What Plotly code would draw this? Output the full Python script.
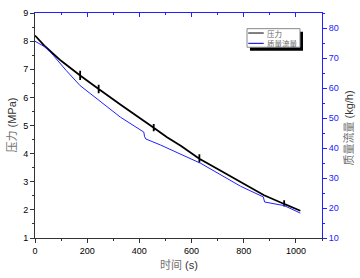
import plotly.graph_objects as go

# time (s) and pressure (MPa), incl. small vertical spikes
time_p = [0, 10, 40, 100, 173, 173, 173, 173, 244, 244, 244, 244, 327, 400, 455, 455, 455, 455,
          506, 560, 630, 630, 630, 630, 700, 788, 878, 955, 955, 955, 955, 1017]
pressure = [8.20, 8.10, 7.80, 7.30, 6.78, 6.95, 6.62, 6.78, 6.30, 6.45, 6.15, 6.30, 5.75, 5.28,
            4.92, 5.05, 4.80, 4.92, 4.58, 4.27, 3.82, 3.98, 3.68, 3.82, 3.45, 2.98, 2.52,
            2.21, 2.34, 2.12, 2.21, 1.97]

# time (s) and mass flow (kg/h)
time_m = [0, 20, 40, 70, 120, 173, 237, 327, 417, 420, 425, 481, 635, 788, 875, 880, 955, 1017]
mass_flow = [75.6, 74.5, 73.6, 70.9, 65.8, 60.8, 56.4, 50.3, 45.3, 43.75, 43.0, 41.0, 34.9,
             27.25, 23.7, 22.0, 20.8, 18.3]

x_ticks = [0, 200, 400, 600, 800, 1000]
y_ticks = [1, 2, 3, 4, 5, 6, 7, 8, 9]
y2_ticks = [10, 20, 30, 40, 50, 60, 70, 80]
legend_names = ["压力", "质量流量"]

GRAY = "#666666"
BLUE = "#2020ff"
fnt = "Arial, Liberation Sans, sans-serif"
cjk = "Noto Sans CJK SC"

fig = go.Figure()
fig.add_trace(go.Scatter(x=time_p, y=pressure, mode="lines", name=legend_names[0],
                         line=dict(color="black", width=1.8)))
fig.add_trace(go.Scatter(x=time_m, y=mass_flow, mode="lines", name=legend_names[1], yaxis="y2",
                         line=dict(color=BLUE, width=1)))
# invisible trace to activate top axis
fig.add_trace(go.Scatter(x=[0], y=[None], xaxis="x2", showlegend=False, hoverinfo="skip"))

def title_txt(cn, unit):
    return f"<span style='font-family:{cjk};color:#707070'>{cn}</span> {unit}"

def ann(text, x, y, angle=0, xanchor="center", size=11, family=fnt, color="#333"):
    return dict(text=text, xref="paper", yref="paper", x=x, y=y, textangle=angle,
                xanchor=xanchor, yanchor="middle", showarrow=False,
                font=dict(size=size, family=family, color=color))

annotations = [
    ann(title_txt("压力", "(MPa)"), -0.087, 0.5, angle=-90),
    ann(title_txt("质量流量", "(kg/h)"), 1.09, 0.49, angle=-90),
    ann(title_txt("时间", "(s)"), 0.5, -0.117),
    ann(legend_names[0], 0.8, 0.911, xanchor="left", size=7.5, family=cjk, color=GRAY),
    ann(legend_names[1], 0.8, 0.865, xanchor="left", size=7.5, family=cjk, color=GRAY),
]
shapes = [
    dict(type="rect", xref="paper", yref="paper", x0=0.749, x1=0.9338, y0=0.8326, y1=0.917,
         fillcolor="black", line=dict(width=0), layer="above"),
    dict(type="rect", xref="paper", yref="paper", x0=0.7387, x1=0.9233, y0=0.8478, y1=0.9304,
         fillcolor="white", line=dict(color="#888", width=1), layer="above"),
    dict(type="line", xref="paper", yref="paper", x0=0.743, x1=0.797, y0=0.911, y1=0.911,
         line=dict(color="black", width=1), layer="above"),
    dict(type="line", xref="paper", yref="paper", x0=0.743, x1=0.797, y0=0.865, y1=0.865,
         line=dict(color=BLUE, width=1.2), layer="above"),
]

fig.update_layout(
    width=360, height=278,
    margin=dict(l=35, r=38, t=8, b=40),
    paper_bgcolor="white", plot_bgcolor="white",
    font=dict(family=fnt, size=9, color="black"),
    showlegend=False,
    annotations=annotations, shapes=shapes,
    xaxis=dict(range=[0, 1100], tickvals=x_ticks, ticks="outside", ticklen=4, showline=True,
               tickcolor="#333", linecolor="#333", linewidth=1, showgrid=False, zeroline=False,
               minor=dict(dtick=100, ticks="outside", ticklen=2, tickcolor="#333"),
               tickfont=dict(size=9, family=fnt)),
    xaxis2=dict(range=[0, 1100], overlaying="x", side="top", tickvals=x_ticks, ticks="inside",
                ticklen=4, tickcolor=BLUE, linecolor=BLUE, linewidth=1, showline=True,
                showticklabels=False, showgrid=False, zeroline=False,
                minor=dict(dtick=100, ticks="inside", ticklen=2, tickcolor=BLUE)),
    yaxis=dict(range=[1, 9], tickvals=y_ticks, ticks="outside", ticklen=4, tickcolor="#333",
               linecolor="#333", linewidth=1, showline=True, showgrid=False, zeroline=False,
               minor=dict(dtick=0.5, ticks="outside", ticklen=2, tickcolor="#333"),
               tickfont=dict(size=9, family=fnt)),
    yaxis2=dict(range=[10, 85], overlaying="y", side="right", tickvals=y2_ticks, ticks="outside",
                ticklen=4, tickcolor=BLUE, linecolor=BLUE, linewidth=1, showline=True,
                showgrid=False, zeroline=False,
                minor=dict(dtick=5, ticks="outside", ticklen=2, tickcolor=BLUE),
                tickfont=dict(size=9, family=fnt, color=BLUE)),
)

fig.write_html("out.html", config={"displayModeBar": False},
               post_script="document.body.style.margin='0';document.body.style.overflow='hidden';")
